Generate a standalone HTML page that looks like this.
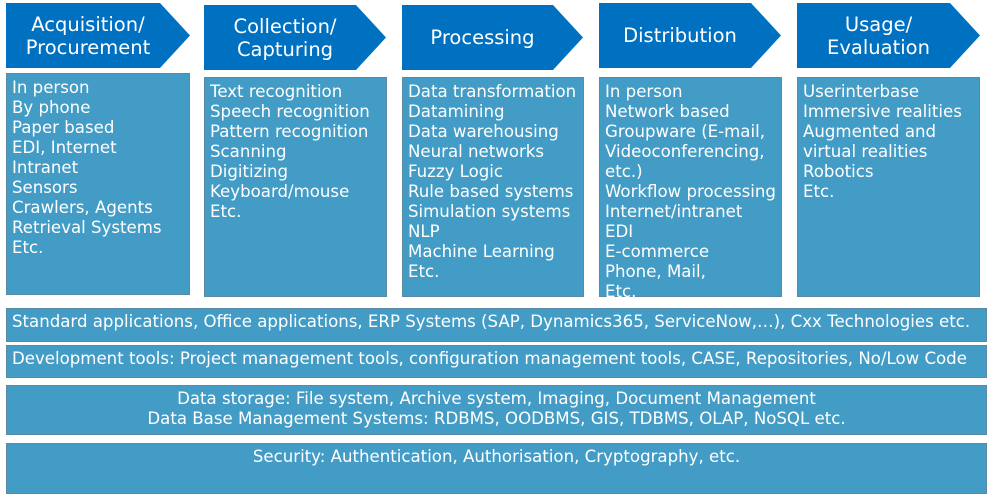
<!DOCTYPE html>
<html><head><meta charset="utf-8"><style>
body{margin:0;width:991px;height:495px;background:#fff;position:relative;overflow:hidden;font-family:Verdana,"DejaVu Sans",sans-serif;color:#fff}
.a{position:absolute;background:#0070c0;clip-path:polygon(0 0,calc(100% - 30px) 0,100% 50%,calc(100% - 30px) 100%,0 100%);display:flex;align-items:center;justify-content:center;text-align:center;font-size:19.5px;line-height:23px;padding-right:20px;box-sizing:border-box}
.b{position:absolute;background:#439cc6;border:1.5px solid #5b8aa3;box-sizing:border-box;font-size:16.6px;line-height:20px;padding:4px 0 0 5px;white-space:nowrap}
.r{position:absolute;left:6px;width:981px;background:#439cc6;border:1.5px solid #5b8aa3;box-sizing:border-box;font-size:16.6px;line-height:20px;white-space:nowrap}
</style></head><body>
<div class="a" style="left:6px;top:3px;width:184px;height:65px">Acquisition/<br>Procurement</div>
<div class="a" style="left:204px;top:5px;width:182px;height:65px">Collection/<br>Capturing</div>
<div class="a" style="left:402px;top:5px;width:181px;height:65px">Processing</div>
<div class="a" style="left:599px;top:3px;width:182px;height:65px">Distribution</div>
<div class="a" style="left:797px;top:3px;width:183px;height:65px">Usage/<br>Evaluation</div>

<div class="b" style="left:6px;top:73px;width:184px;height:222px">In person<br>By phone<br>Paper based<br>EDI, Internet<br>Intranet<br>Sensors<br>Crawlers, Agents<br>Retrieval Systems<br>Etc.</div>
<div class="b" style="left:204px;top:77px;width:183px;height:220px">Text recognition<br>Speech recognition<br>Pattern recognition<br>Scanning<br>Digitizing<br>Keyboard/mouse<br>Etc.</div>
<div class="b" style="left:402px;top:77px;width:182px;height:220px">Data transformation<br>Datamining<br>Data warehousing<br>Neural networks<br>Fuzzy Logic<br>Rule based systems<br>Simulation systems<br>NLP<br>Machine Learning<br>Etc.</div>
<div class="b" style="left:599px;top:77px;width:183px;height:220px">In person<br>Network based<br>Groupware (E-mail,<br>Videoconferencing,<br>etc.)<br>Workflow processing<br>Internet/intranet<br>EDI<br>E-commerce<br>Phone, Mail,<br>Etc.</div>
<div class="b" style="left:797px;top:77px;width:183px;height:220px">Userinterbase<br>Immersive realities<br>Augmented and<br>virtual realities<br>Robotics<br>Etc.</div>

<div class="r" style="top:308px;height:34px;padding:3px 0 0 5px">Standard applications, Office applications, ERP Systems (SAP, Dynamics365, ServiceNow,…), Cxx Technologies etc.</div>
<div class="r" style="top:345px;height:33px;padding:3px 0 0 5px">Development tools: Project management tools, configuration management tools, CASE, Repositories, No/Low Code</div>
<div class="r" style="top:385px;height:50px;padding:3px 0 0 0;text-align:center">Data storage: File system, Archive system, Imaging, Document Management<br>Data Base Management Systems: RDBMS, OODBMS, GIS, TDBMS, OLAP, NoSQL etc.</div>
<div class="r" style="top:443px;height:51px;padding:3px 0 0 0;text-align:center">Security: Authentication, Authorisation, Cryptography, etc.</div>
</body></html>
